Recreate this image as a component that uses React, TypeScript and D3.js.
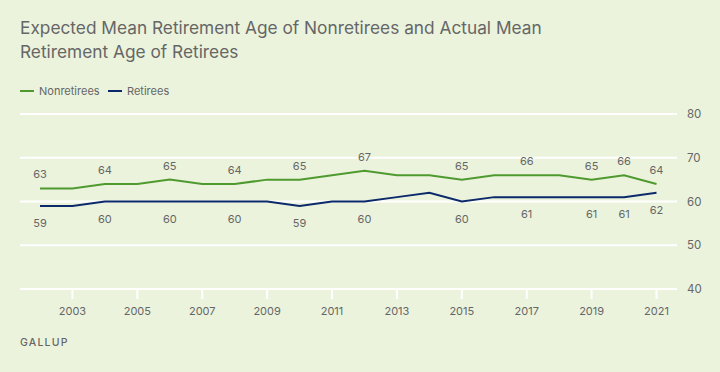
import { useEffect, useRef } from 'react';
import * as d3 from 'd3';

const years = d3.range(2002, 2022);
const nonretirees = [63, 63, 64, 64, 65, 64, 64, 65, 65, 66, 67, 66, 66, 65, 66, 66, 66, 65, 66, 64];
const retirees = [59, 59, 60, 60, 60, 60, 60, 60, 59, 60, 60, 61, 62, 60, 61, 61, 61, 61, 61, 62];
const labelYears = [2002, 2004, 2006, 2008, 2010, 2012, 2015, 2017, 2019, 2020, 2021];
const xTickYears = [2003, 2005, 2007, 2009, 2011, 2013, 2015, 2017, 2019, 2021];
const yTicks = [40, 50, 60, 70, 80];

const W = 720;
const H = 372;
const BG = '#ebf3dd';
const GREEN = '#4f9a2f';
const NAVY = '#0c2a6b';
const TEXT = '#666666';
const FONT = 'Inter, "Open Sans", sans-serif';

const App = () => {
  const svgRef = useRef<SVGSVGElement>(null);

  useEffect(() => {
    if (!svgRef.current) return;
    const svg = d3.select(svgRef.current);
    svg.selectAll('*').remove();

    svg.append('rect').attr('width', W).attr('height', H).attr('fill', BG);

    const x = d3.scaleLinear().domain([2002, 2021]).range([40, 656.5]);
    const y = d3.scaleLinear().domain([40, 80]).range([289, 114]);

    // title
    const title = svg.append('text')
      .attr('fill', TEXT)
      .style('font-family', FONT)
      .style('font-size', '17.3px');
    title.append('tspan').attr('x', 20).attr('y', 34).text('Expected Mean Retirement Age of Nonretirees and Actual Mean');
    title.append('tspan').attr('x', 20).attr('y', 58).text('Retirement Age of Retirees');

    // legend
    const legend = [
      { name: 'Nonretirees', color: GREEN, x: 20 },
      { name: 'Retirees', color: NAVY, x: 108 },
    ];
    legend.forEach(l => {
      svg.append('line')
        .attr('x1', l.x).attr('x2', l.x + 14)
        .attr('y1', 91).attr('y2', 91)
        .attr('stroke', l.color).attr('stroke-width', 2);
      svg.append('text')
        .attr('x', l.x + 19).attr('y', 95)
        .attr('fill', TEXT)
        .style('font-family', FONT)
        .style('font-size', '11px')
        .text(l.name);
    });

    // gridlines
    svg.selectAll('line.grid')
      .data(yTicks)
      .join('line')
      .attr('class', 'grid')
      .attr('x1', 20).attr('x2', 677)
      .attr('y1', d => y(d)).attr('y2', d => y(d))
      .attr('stroke', '#ffffff').attr('stroke-width', 2);

    svg.selectAll('text.ylab')
      .data(yTicks)
      .join('text')
      .attr('class', 'ylab')
      .attr('x', 687).attr('y', d => y(d) + 4)
      .attr('fill', TEXT)
      .style('font-family', FONT)
      .style('font-size', '11.5px')
      .text(d => d);

    // x ticks
    svg.selectAll('line.xtick')
      .data(xTickYears)
      .join('line')
      .attr('class', 'xtick')
      .attr('x1', d => x(d)).attr('x2', d => x(d))
      .attr('y1', 289).attr('y2', 299)
      .attr('stroke', '#ffffff').attr('stroke-width', 2);

    svg.selectAll('text.xlab')
      .data(xTickYears)
      .join('text')
      .attr('class', 'xlab')
      .attr('x', d => x(d)).attr('y', 315)
      .attr('text-anchor', 'middle')
      .attr('fill', TEXT)
      .style('font-family', FONT)
      .style('font-size', '11px')
      .text(d => d);

    // lines
    const line = d3.line<number>()
      .x((_, i) => x(years[i]))
      .y(d => y(d));

    svg.append('path')
      .datum(nonretirees)
      .attr('d', line)
      .attr('fill', 'none')
      .attr('stroke', GREEN)
      .attr('stroke-width', 2);

    svg.append('path')
      .datum(retirees)
      .attr('d', line)
      .attr('fill', 'none')
      .attr('stroke', NAVY)
      .attr('stroke-width', 2);

    // data labels
    svg.selectAll('text.nlab')
      .data(labelYears)
      .join('text')
      .attr('class', 'nlab')
      .attr('x', d => x(d))
      .attr('y', d => y(nonretirees[years.indexOf(d)]) - 10)
      .attr('text-anchor', 'middle')
      .attr('fill', TEXT)
      .style('font-family', FONT)
      .style('font-size', '11px')
      .text(d => nonretirees[years.indexOf(d)]);

    svg.selectAll('text.rlab')
      .data(labelYears)
      .join('text')
      .attr('class', 'rlab')
      .attr('x', d => x(d))
      .attr('y', d => y(retirees[years.indexOf(d)]) + 21)
      .attr('text-anchor', 'middle')
      .attr('fill', TEXT)
      .style('font-family', FONT)
      .style('font-size', '11px')
      .text(d => retirees[years.indexOf(d)]);

    // source
    svg.append('text')
      .attr('x', 20).attr('y', 346)
      .attr('fill', TEXT)
      .style('font-family', FONT)
      .style('font-size', '10.5px')
      .style('font-weight', 500)
      .style('letter-spacing', '1.2px')
      .text('GALLUP');
  }, []);

  return (
    <div style={{ position: 'absolute', left: 0, top: 0, width: W, height: H }}>
      <svg ref={svgRef} width={W} height={H} />
    </div>
  );
};

export default App;
